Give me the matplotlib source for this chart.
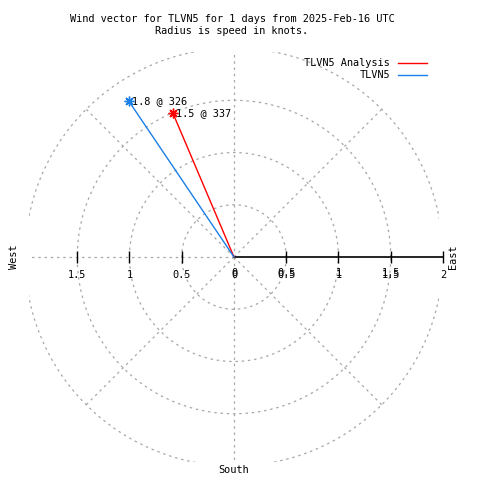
import numpy as np
import matplotlib
matplotlib.use("Agg")
import matplotlib.pyplot as plt
from matplotlib.lines import Line2D

# ---------------------------------------------------------------
# Data
# ---------------------------------------------------------------
series_names = ["TLVN5 Analysis", "TLVN5"]
series_colors = ["#ff0000", "#1a7fe6"]
speeds = [1.5, 1.8]          # knots
directions = [337, 326]      # degrees, clockwise from north

rings = [0.5, 1.0, 1.5, 2.0]
spoke_angles = [0, 45, 90, 135, 180, 225, 270, 315]
tick_vals = [-1.5, -1.0, -0.5, 0.0, 0.5, 1.0, 1.5, 2.0]
tick_labels = ["1.5", "1", "0.5", "0", "0.5", "1", "1.5", "2"]

title = ("Wind vector for TLVN5 for 1 days from 2025-Feb-16 UTC\n"
         "Radius is speed in knots.")

FONT = "DejaVu Sans Mono"
FS = 7.4
GRID = dict(color="#a8a8a8", lw=0.9, ls=(0, (2, 3)))

# ---------------------------------------------------------------
# Figure
# ---------------------------------------------------------------
fig = plt.figure(figsize=(4.8, 4.8), dpi=100)
lim = 1.96
ax = fig.add_axes([0.0608, 0.0379, 0.8533, 0.8533])
ax.set_xlim(-lim, lim)
ax.set_ylim(-lim, lim)
ax.set_aspect("equal")
ax.axis("off")

# polar grid circles
th = np.linspace(0, 2 * np.pi, 721)
for r in rings:
    ax.plot(r * np.cos(th), r * np.sin(th), **GRID)

# radial spokes
rmax = max(rings)
for a in spoke_angles:
    rad = np.deg2rad(a)
    if a == 90:
        continue  # east is drawn as solid axis below
    ax.plot([0, rmax * np.sin(rad)], [0, rmax * np.cos(rad)], **GRID)

# east axis (solid) with ticks
ax.plot([0, rmax], [0, 0], color="black", lw=1.2, clip_on=False)
ax.plot([v for v in tick_vals if v != 0], [0] * (len(tick_vals) - 1),
        ls="none", marker="|", color="black", ms=8, mew=1.0, clip_on=False)

# tick labels
for v, lab in zip(tick_vals, tick_labels):
    ax.annotate(lab, (v, 0), xytext=(0, -13), textcoords="offset points",
                ha="center", va="center", fontsize=FS, family=FONT,
                annotation_clip=False)
    if 0 <= v < 2:
        # gnuplot overprints r-tics on the positive side
        ax.annotate(lab, (v, 0), xytext=(0.3, -11.3), textcoords="offset points",
                    ha="center", va="center", fontsize=FS, family=FONT,
                    annotation_clip=False)

# compass labels
ax.annotate("East", (rmax, 0), xytext=(7.5, 0), textcoords="offset points",
            rotation=90, ha="center", va="center", fontsize=FS, family=FONT,
            annotation_clip=False)
ax.annotate("West", (-rmax, 0), xytext=(-8, 0), textcoords="offset points",
            rotation=90, ha="center", va="center", fontsize=FS, family=FONT,
            annotation_clip=False)
ax.annotate("South", (0, -rmax), xytext=(0, -3), textcoords="offset points",
            ha="center", va="center", fontsize=FS, family=FONT,
            annotation_clip=False)

# wind vectors
for name, col, s, d in zip(series_names, series_colors, speeds, directions):
    rad = np.deg2rad(d)
    x, y = s * np.sin(rad), s * np.cos(rad)
    ax.plot([0, x], [0, y], color=col, lw=1.0)
    ax.plot([x], [y], ls="none", marker=(8, 2, 0), ms=7, mew=1.0, color=col)
    ax.annotate(f"{s:g} @ {d}", (x, y), xytext=(2, 0), textcoords="offset points",
                ha="left", va="center", fontsize=FS, family=FONT)

# title
fig.text(0.483, 1 - 25 / 480, title, ha="center", va="center",
         fontsize=FS, family=FONT, linespacing=1.2)

# legend (gnuplot style: label right aligned, sample to the right)
for i, (name, col) in enumerate(zip(series_names, series_colors)):
    ypx = 63 + 12 * i
    fig.text(390 / 480, 1 - ypx / 480, name, ha="right", va="center",
             fontsize=FS, family=FONT)
    fig.add_artist(Line2D([398 / 480, 427 / 480], [1 - ypx / 480] * 2,
                          color=col, lw=1.0, transform=fig.transFigure))

fig.savefig("out.png", dpi=100)
